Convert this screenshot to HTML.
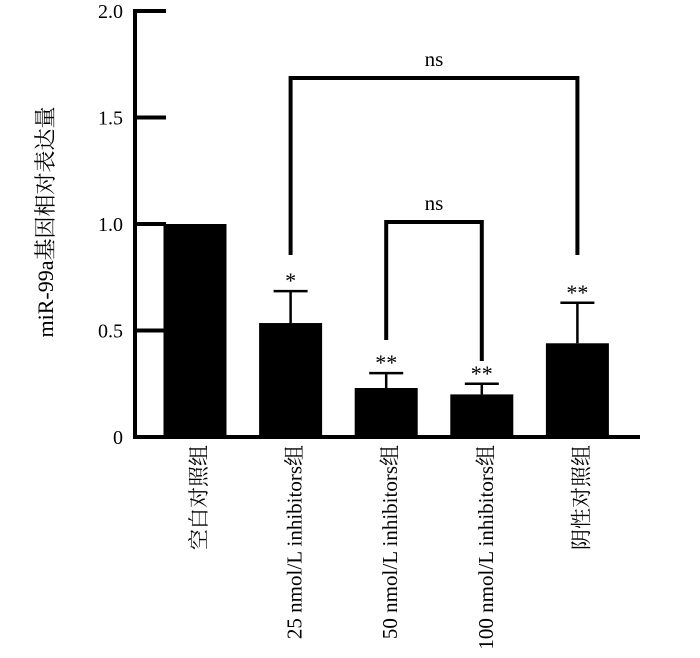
<!DOCTYPE html>
<html><head><meta charset="utf-8"><style>
html,body{margin:0;padding:0;background:#fff;}
svg{display:block;font-family:"Liberation Serif","Noto Serif CJK SC","Noto Sans CJK SC",serif;}
</style></head><body>
<svg id="chart" width="700" height="658" viewBox="0 0 700 658"></svg>
<script>
const categories = ["空白对照组","25 nmol/L inhibitors组","50 nmol/L inhibitors组","100 nmol/L inhibitors组","阴性对照组"];
const values = [1.0, 0.535, 0.23, 0.20, 0.44];
const errors = [0, 0.15, 0.07, 0.05, 0.19];
const stars = ["", "*", "**", "**", "**"];
const yTicks = [0, 0.5, 1.0, 1.5, 2.0];
const yTickLabels = ["0", "0.5", "1.0", "1.5", "2.0"];

const NS = "http://www.w3.org/2000/svg";
const svg = document.getElementById("chart");
const y0 = 437, yScale = 213;
function yPos(v){ return y0 - v*yScale; }
function xCenter(i){ return 195 + i*95.6; }
const barW = 63;
function mk(tag, attrs, parent){
  const e = document.createElementNS(NS, tag);
  for (const k in attrs) e.setAttribute(k, attrs[k]);
  (parent||svg).appendChild(e);
  return e;
}

categories.forEach((c,i)=>{
  const cx = xCenter(i), top = yPos(values[i]);
  const r = mk("rect",{x:cx-barW/2,y:top,width:barW,height:y0-top,fill:"#000"});
  
  
  if (errors[i] > 0) {
    const et = yPos(values[i]+errors[i]);
    const g = mk("g",{stroke:"#000","stroke-width":2.5});
    
    
    mk("line",{x1:cx,x2:cx,y1:top,y2:et},g);
    mk("line",{x1:cx-17,x2:cx+17,y1:et,y2:et},g);
  }
  if (stars[i]) {
    const et = yPos(values[i]+errors[i]);
    const t = mk("text",{x:cx,y:et-3,"text-anchor":"middle","font-size":22});
    t.textContent = stars[i];
    
    
  }
  const lx = xCenter(i)+3;
  const lbl = mk("text",{x:0,y:0,"text-anchor":"end","font-size":21,transform:`translate(${lx+8},445) rotate(-90)`});
  lbl.textContent = c;
  
  
});

const ax = mk("g",{stroke:"#000","stroke-width":4,fill:"none"});


mk("line",{x1:135,x2:135,y1:9,y2:439},ax);
mk("line",{x1:133,x2:640,y1:437,y2:437},ax);
yTicks.forEach((v,i)=>{
  const y = yPos(v);
  if (v>0) mk("line",{x1:135,x2:166,y1:y,y2:y},ax);
  const t = mk("text",{x:123,y:y+7,"text-anchor":"end","font-size":20});
  t.textContent = yTickLabels[i];
  
  
});
const yt = mk("text",{x:0,y:0,"text-anchor":"middle","font-size":22,transform:"translate(53,222) rotate(-90)"});
yt.textContent = "miR-99a基因相对表达量";



function bracket(i1,i2,yTop,yl,yr,name){
  const g = mk("g",{stroke:"#000","stroke-width":4,fill:"none"});
  
  
  const x1 = xCenter(i1), x2 = xCenter(i2);
  mk("polyline",{points:`${x1},${yl} ${x1},${yTop} ${x2},${yTop} ${x2},${yr}`},g);
  const t = mk("text",{x:(x1+x2)/2,y:yTop-12,"text-anchor":"middle","font-size":21,stroke:"none",fill:"#000"});
  t.textContent = "ns";
  
  
}
bracket(1,4,78,255,255,"bracket-outer");
bracket(2,3,222,340,361,"bracket-inner");
</script>
</body></html>
